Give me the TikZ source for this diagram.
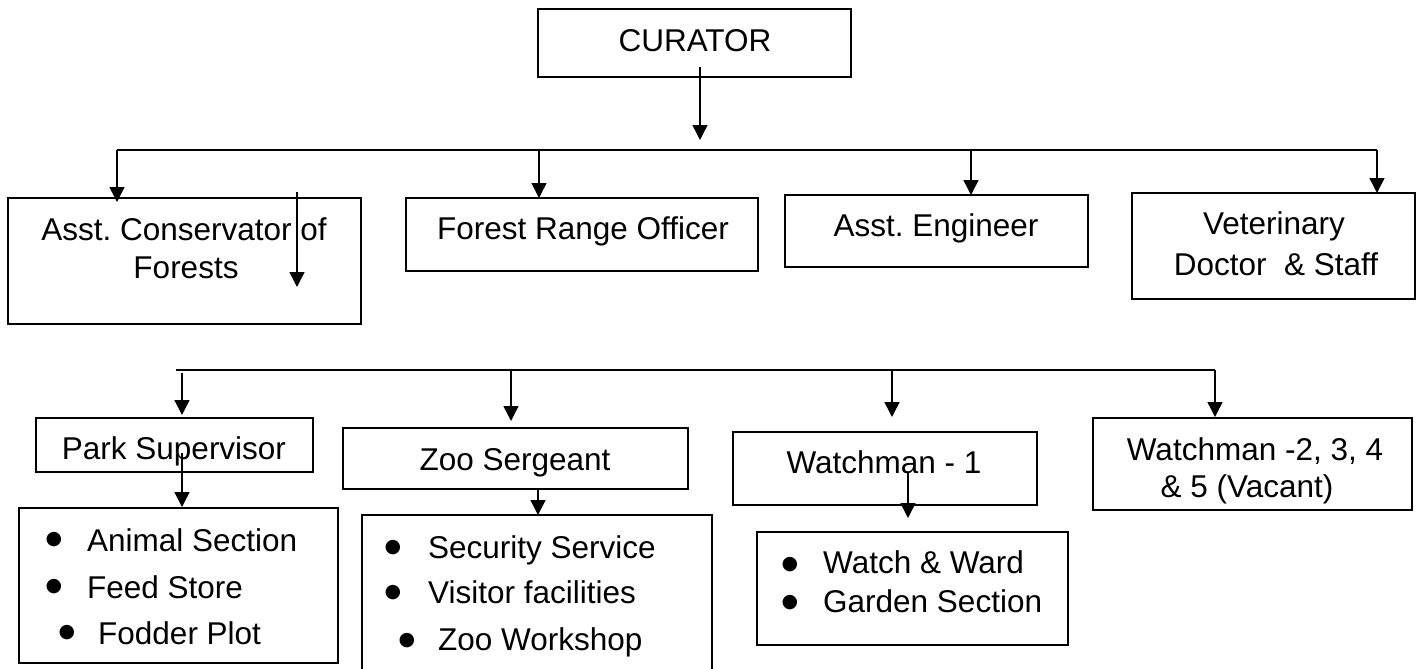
\documentclass[tikz,border=0pt]{standalone}
\usepackage{fontspec}
\setmainfont{Liberation Sans}
\newfontfamily\dejavu{DejaVu Sans}
\usetikzlibrary{arrows.meta,calc}
\frenchspacing
\begin{document}
\begin{tikzpicture}[x=1pt,y=-1pt,
  box/.style={draw,line width=1.5pt,rectangle,inner sep=0,outer sep=0,anchor=north west},
  t/.style={anchor=base,inner sep=0,font=\fontsize{31.5}{38}\selectfont},
  tl/.style={t,anchor=base west},
  bul/.style={inner sep=0,font=\dejavu\fontsize{19}{19}\selectfont},
  arr/.style={line width=1.5pt,-{Triangle[width=15pt,length=15pt]}},
  bus/.style={line width=2pt}]
\clip (0,0) rectangle (1422,669);
% boxes
\node[box,minimum width=313pt,minimum height=68pt] (cur) at (538,9) {};
\node[box,minimum width=353pt,minimum height=126pt] (acf) at (8,198) {};
\node[box,minimum width=352pt,minimum height=73pt] (fro) at (406,198) {};
\node[box,minimum width=303pt,minimum height=72pt] (ae) at (785,195) {};
\node[box,minimum width=283pt,minimum height=106pt] (vet) at (1132,193) {};
\node[box,minimum width=277pt,minimum height=54pt] (ps) at (36,418) {};
\node[box,minimum width=345pt,minimum height=61pt] (zs) at (343,428) {};
\node[box,minimum width=304pt,minimum height=73pt] (w1) at (733,432) {};
\node[box,minimum width=319pt,minimum height=92pt] (w2) at (1093,418) {};
\node[box,minimum width=319pt,minimum height=155pt] (psl) at (19,508) {};
\node[box,minimum width=350pt,minimum height=200pt] (zsl) at (362,515) {};
\node[box,minimum width=311pt,minimum height=113pt] (w1l) at (757,532) {};
% texts
\node[t] (curt) at (695,52) {CURATOR};
\node[t] (acft1) at (184,240) {Asst. Conservator of};
\node[t] (acft2) at (186,278) {Forests};
\node[t] (frot) at (583,239) {Forest Range Officer};
\node[t] (aet) at (936,236) {Asst. Engineer};
\node[t] (vett1) at (1274,234) {Veterinary};
\node[t] (vett2) at (1276,275) {Doctor\ \ \& Staff};
\node[t] (pst) at (174,459) {Park Supervisor};
\node[t] (zst) at (515,470) {Zoo Sergeant};
\node[t] (w1t) at (884,473) {Watchman - 1};
\node[t] (w2t1) at (1255,460) {Watchman -2, 3, 4};
\node[t] (w2t2) at (1247,497) {\& 5 (Vacant)};
% lists
\node[bul] (pb1) at (54,540) {●};
\node[bul] (pb2) at (54,587) {●};
\node[bul] (pb3) at (67,633) {●};
\node[tl] (pl1) at (87,551) {Animal Section};
\node[tl] (pl2) at (87,598) {Feed Store};
\node[tl] (pl3) at (98,644) {Fodder Plot};
\node[bul] (zb1) at (393,548) {●};
\node[bul] (zb2) at (393,593) {●};
\node[bul] (zb3) at (407,641) {●};
\node[tl] (zl1) at (428,558) {Security Service};
\node[tl] (zl2) at (428,603) {Visitor facilities};
\node[tl] (zl3) at (438,650) {Zoo Workshop};
\node[bul] (wb1) at (790,565) {●};
\node[bul] (wb2) at (790,603) {●};
\node[tl] (wl1) at (823,573) {Watch \& Ward};
\node[tl] (wl2) at (823,612) {Garden Section};
% connectors level 1
\draw[arr] ($(cur.south)+(5.5,-10)$) -- ($(cur.south)+(5.5,63)$);
\coordinate (b1L) at (117,150);
\coordinate (b1R) at (1377,150);
\draw[bus] (b1L) -- (b1R);
\draw[arr] (b1L) -- ($(acf.north -| b1L)+(0,4)$);
\draw[arr] ($(b1L)+(422,0)$) -- ($(fro.north)+(-43,0)$);
\draw[arr] ($(b1L)+(854,0)$) -- ($(ae.north)+(34.5,0)$);
\draw[arr] (b1R) -- (vet.north -| b1R);
\draw[arr] ($(acf.north west)+(289,-6)$) -- ($(acf.north west)+(289,89)$);
% connectors level 2
\coordinate (b2L) at (176,370);
\coordinate (b2R) at (1215,370);
\draw[bus] (b2L) -- (b2R);
\draw[arr] ($(ps.north)+(7.5,-45)$) -- ($(ps.north)+(7.5,-3)$);
\draw[arr] ($(b2L)+(335,0)$) -- ($(zs.north)+(-4.5,-7)$);
\draw[arr] ($(b2L)+(716,0)$) -- ($(w1.north)+(7,-15)$);
\draw[arr] (b2R) -- ($(w2.north -| b2R)+(0,-1)$);
\draw[arr] ($(ps.south)+(7.5,-19)$) -- ($(psl.north)+(3.5,-1)$);
\draw[arr] ($(zs.south)+(22.5,0)$) -- ($(zsl.north)+(1,0)$);
\draw[arr] ($(w1.south)+(23,-33)$) -- ($(w1l.north)+(-4.5,-14)$);
\end{tikzpicture}
\end{document}
